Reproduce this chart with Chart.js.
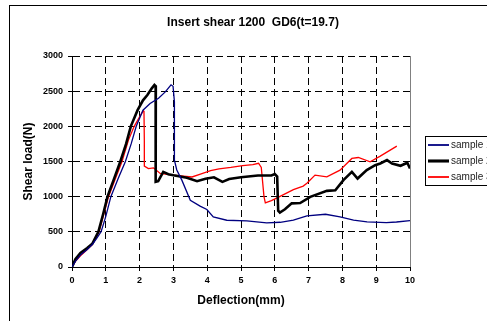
<!DOCTYPE html>
<html>
<head>
<meta charset="utf-8">
<title>Insert shear 1200 GD6</title>
<script src="https://cdn.jsdelivr.net/npm/chart.js@4.4.1/dist/chart.umd.min.js"></script>
<style>
html, body { margin: 0; padding: 0; background: #fff; overflow: hidden; }
</style>
</head>
<body>
<canvas id="shearChart" width="487" height="321"></canvas>
<script>
// Data
var chartTitle = "Insert shear 1200  GD6(t=19.7)";
var seriesNames = ["sample 1", "sample 2", "sample 3"];
var xTickLabels = ["0", "1", "2", "3", "4", "5", "6", "7", "8", "9", "10"];
var yTickLabels = ["0", "500", "1000", "1500", "2000", "2500", "3000"];

var sample1X = [0, 0.1, 0.25, 0.45, 0.6, 0.72, 0.86, 1.0, 1.15, 1.36, 1.58, 1.75, 1.9, 2.1, 2.31, 2.56, 2.76, 2.93, 2.99, 3.03, 3.04, 3.03, 3.02, 3.1, 3.25, 3.5, 3.79, 3.99, 4.18, 4.58, 5.17, 5.76, 6.16, 6.55, 6.95, 7.5, 7.93, 8.33, 8.73, 9.3, 9.6, 10];
var sample1Y = [0, 80, 170, 250, 320, 400, 500, 720, 1000, 1250, 1500, 1750, 2000, 2230, 2325, 2400, 2490, 2590, 2570, 2350, 2000, 1700, 1520, 1380, 1235, 950, 865, 817, 712, 665, 655, 627, 636, 665, 727, 750, 712, 665, 641, 630, 640, 660];

var sample2X = [0, 0.1, 0.25, 0.45, 0.6, 0.78, 0.92, 1.05, 1.24, 1.43, 1.6, 1.74, 1.94, 2.1, 2.23, 2.36, 2.44, 2.48, 2.48, 2.47, 2.55, 2.7, 2.85, 3.0, 3.4, 3.7, 3.95, 4.2, 4.45, 4.65, 5.0, 5.5, 5.9, 6.0, 6.07, 6.1, 6.15, 6.3, 6.5, 6.75, 7.05, 7.54, 7.79, 8.03, 8.28, 8.45, 8.72, 8.97, 9.12, 9.32, 9.47, 9.72, 9.92, 10.0];
var sample2Y = [0, 110, 200, 270, 330, 500, 750, 1000, 1250, 1500, 1750, 2000, 2230, 2370, 2445, 2540, 2588, 2570, 1800, 1210, 1220, 1353, 1320, 1305, 1270, 1220, 1255, 1275, 1210, 1250, 1275, 1300, 1300, 1320, 1285, 800, 775, 820, 905, 910, 997, 1083, 1092, 1235, 1353, 1258, 1377, 1448, 1472, 1520, 1472, 1439, 1482, 1400];

var sample3X = [0, 0.1, 0.25, 0.45, 0.6, 0.8, 0.94, 1.08, 1.28, 1.48, 1.67, 1.84, 2.0, 2.11, 2.13, 2.14, 2.14, 2.26, 2.41, 2.61, 3.0, 3.3, 3.55, 3.8, 4.1, 4.35, 4.7, 5.05, 5.35, 5.52, 5.6, 5.68, 5.72, 5.9, 6.2, 6.55, 6.84, 6.95, 7.19, 7.54, 7.93, 8.28, 8.47, 8.82, 9.12, 9.61];
var sample3Y = [0, 80, 160, 250, 320, 500, 750, 1000, 1250, 1500, 1804, 2000, 2136, 2222, 2200, 1800, 1434, 1400, 1410, 1330, 1305, 1290, 1280, 1320, 1370, 1395, 1415, 1440, 1455, 1475, 1415, 1000, 912, 945, 1015, 1100, 1150, 1190, 1306, 1282, 1377, 1543, 1557, 1496, 1577, 1718];

function toPoints(xs, ys) {
    var pts = [];
    for (var i = 0; i < xs.length; i++) {
        pts.push({ x: xs[i], y: ys[i] });
    }
    return pts;
}

// frame, title and boxed legend like the spreadsheet original
var framePlugin = {
    id: 'frame',
    beforeDraw: function (chart) {
        var ctx = chart.ctx;
        ctx.save();
        ctx.fillStyle = '#fff';
        ctx.fillRect(0, 0, chart.width, chart.height);
        ctx.strokeStyle = '#000';
        ctx.lineWidth = 1;
        ctx.strokeRect(9.5, 5.5, 600, 400);
        ctx.restore();
    },
    afterDraw: function (chart) {
        var ctx = chart.ctx;
        var a = chart.chartArea;
        ctx.save();
        // right edge of plot area
        ctx.strokeStyle = '#808080';
        ctx.lineWidth = 1;
        ctx.beginPath();
        ctx.moveTo(Math.round(a.right) + 0.5, a.top);
        ctx.lineTo(Math.round(a.right) + 0.5, a.bottom);
        ctx.stroke();

        // title
        ctx.fillStyle = '#000';
        ctx.font = 'bold 12px Arial, "Liberation Sans", sans-serif';
        ctx.textAlign = 'center';
        ctx.textBaseline = 'middle';
        ctx.fillText(chartTitle, 253, 23);

        // legend box
        ctx.strokeStyle = '#000';
        ctx.strokeRect(425.5, 136.5, 90, 49);
        ctx.font = '10px Arial, "Liberation Sans", sans-serif';
        ctx.textAlign = 'left';
        chart.data.datasets.forEach(function (ds, i) {
            var y = 145 + i * 16;
            ctx.strokeStyle = ds.borderColor;
            ctx.lineWidth = ds.borderWidth + 0.5;
            ctx.beginPath();
            ctx.moveTo(428, y);
            ctx.lineTo(449, y);
            ctx.stroke();
            ctx.fillStyle = '#222';
            ctx.fillText(ds.label, 451, y);
        });
        ctx.restore();
    }
};

var ctx = document.getElementById("shearChart").getContext('2d');
var shearChart = new Chart(ctx, {
    type: 'scatter',
    data: {
        datasets: [{
            label: seriesNames[0],
            data: toPoints(sample1X, sample1Y),
            borderColor: '#000080',
            borderWidth: 1.3,
            showLine: true,
            pointRadius: 0
        }, {
            label: seriesNames[1],
            data: toPoints(sample2X, sample2Y),
            borderColor: '#000000',
            borderWidth: 2.6,
            showLine: true,
            pointRadius: 0
        }, {
            label: seriesNames[2],
            data: toPoints(sample3X, sample3Y),
            borderColor: '#ff0000',
            borderWidth: 1.3,
            showLine: true,
            pointRadius: 0
        }]
    },
    options: {
        responsive: false,
        animation: false,
        layout: {
            padding: { top: 56, left: 16, right: 77, bottom: 12 }
        },
        plugins: {
            legend: { display: false },
            title: { display: false },
            tooltip: { enabled: false }
        },
        scales: {
            x: {
                type: 'linear',
                min: 0,
                max: 10,
                afterFit: function (scale) { scale.height = 42; },
                afterBuildTicks: function (scale) {
                    scale.ticks = xTickLabels.map(function (t) { return { value: Number(t) }; });
                },
                ticks: {
                    padding: 4,
                    color: '#000',
                    font: { size: 9, weight: 'bold', family: 'Arial, "Liberation Sans", sans-serif' },
                    maxRotation: 0,
                    callback: function (v) { return String(v); }
                },
                grid: { color: '#000', lineWidth: 1, tickLength: 4 },
                border: { display: true, color: '#000', width: 1, dash: [7, 4] },
                title: {
                    display: true,
                    text: 'Deflection(mm)',
                    color: '#000',
                    font: { size: 12, weight: 'bold', family: 'Arial, "Liberation Sans", sans-serif' },
                    padding: { top: 0, bottom: 1 }
                }
            },
            y: {
                type: 'linear',
                min: 0,
                max: 3000,
                afterFit: function (scale) { scale.width = 56; },
                afterBuildTicks: function (scale) {
                    scale.ticks = yTickLabels.map(function (t) { return { value: Number(t) }; });
                },
                ticks: {
                    padding: 5,
                    color: '#000',
                    font: { size: 9, weight: 'bold', family: 'Arial, "Liberation Sans", sans-serif' },
                    callback: function (v) { return String(v); }
                },
                grid: { color: '#000', lineWidth: 1, tickLength: 4 },
                border: { display: true, color: '#000', width: 1, dash: [7, 4] },
                title: {
                    display: true,
                    text: 'Shear load(N)',
                    color: '#000',
                    font: { size: 12, weight: 'bold', family: 'Arial, "Liberation Sans", sans-serif' },
                    padding: { top: 5, bottom: 0 }
                }
            }
        }
    },
    plugins: [framePlugin]
});
</script>
</body>
</html>
